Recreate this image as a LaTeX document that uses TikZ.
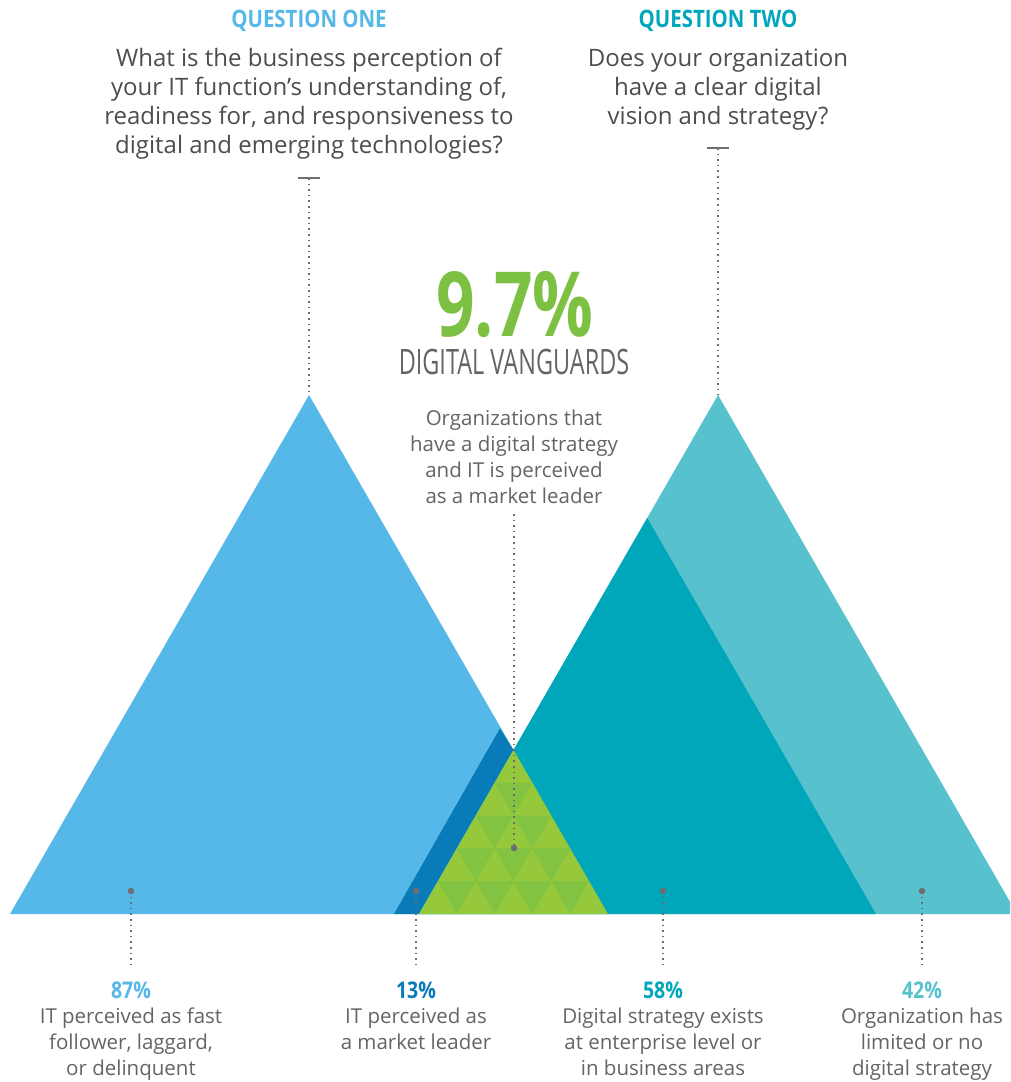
\documentclass[tikz,border=0pt]{standalone}
\usepackage{fontspec}
\setmainfont{Open Sans}
\newfontfamily\condfont[FakeStretch=0.85]{Open Sans}
\newfontfamily\bigfont[FakeStretch=0.75]{Open Sans}
\newfontfamily\thinfont[FakeStretch=0.67]{Open Sans}
\usetikzlibrary{positioning}
\definecolor{skyblue}{HTML}{55B8E8}
\definecolor{deepblue}{HTML}{0A7BB9}
\definecolor{tealdark}{HTML}{00A6B9}
\definecolor{teallight}{HTML}{57C2CE}
\definecolor{greenup}{HTML}{96C83C}
\definecolor{greendown}{HTML}{82C342}
\definecolor{greentext}{HTML}{7DC142}
\definecolor{textgray}{HTML}{4D4D4F}
\definecolor{softgray}{HTML}{636466}
\definecolor{dotgray}{HTML}{6D6E71}
\tikzset{
  qhead/.style={inner sep=0pt, font=\condfont\bfseries\fontsize{24}{28}\selectfont},
  question/.style={align=center, inner sep=0pt, text=textgray, font=\fontsize{24}{29}\selectfont},
  answer/.style={align=center, inner sep=0pt, text=softgray, font=\fontsize{20.5}{26}\selectfont},
  pct/.style={inner sep=0pt, font=\condfont\bfseries\fontsize{23}{26}\selectfont},
  dotline/.style={draw=dotgray, line width=1.6pt, dash pattern=on 1.6pt off 4pt},
  tickline/.style={draw=dotgray, line width=1.8pt},
  pin/.style={circle, fill=dotgray, inner sep=0pt, minimum size=6.5pt},
}
\begin{document}
\begin{tikzpicture}[x=1pt,y=-1pt]
\useasboundingbox (0,0) rectangle (1010,1082);
\clip (0,0) rectangle (1010,1082);
% triangles
\coordinate (apexL) at (309,395);
\coordinate (apexR) at (718,395);
\coordinate (apexG) at (513.5,750);
\fill[skyblue] (10,914) -- (apexL) -- (608,914) -- cycle;
\fill[deepblue] (394,914) -- (500,728.3) -- (apexG) -- (419,914) -- cycle;
\fill[teallight] (419,914) -- (apexR) -- (1017,914) -- cycle;
\fill[tealdark] (419,914) -- (647.2,518) -- (876,914) -- cycle;
% green vanguard triangle with tiles
\fill[greenup] (419,914) -- (apexG) -- (608,914) -- cycle;
\foreach \r in {1,...,4}{
  \foreach \k in {1,...,\r}{
    \pgfmathsetmacro{\xa}{513.5+(2*\k-2-\r)*18.9}
    \pgfmathsetmacro{\ya}{750+32.8*\r}
    \fill[greendown] (\xa,\ya) -- ++(37.8,0) -- ++(-18.9,32.8) -- cycle;
  }
}
% headings and questions
\node[qhead, text=skyblue] (h1) at (309,21) {QUESTION ONE};
\node[qhead, text=tealdark] (h2) at (718,21) {QUESTION TWO};
\node[question] (q1) at (309,104) {What is the business perception of\\your IT function’s understanding of,\\readiness for, and responsiveness to\\digital and emerging technologies?};
\node[question] (q2) at (718,89.5) {Does your organization\\have a clear digital\\vision and strategy?};
% centre figure
\node[inner sep=0pt, anchor=base, text depth=0pt, text=greentext, font=\bigfont\bfseries\fontsize{90}{90}\selectfont] (big) at (515,336) {9.7\%};
\node[inner sep=0pt, text=softgray, font=\thinfont\fontsize{35}{40}\selectfont] (vang) at (514,362) {DIGITAL VANGUARDS};
\node[answer] (vtext) at (514,457) {Organizations that\\have a digital strategy\\and IT is perceived\\as a market leader};
% leaders from the questions
\coordinate (t1) at (309,178);
\coordinate (t2) at (718,148);
\draw[tickline] ([xshift=-11pt]t1) -- ([xshift=11pt]t1);
\draw[tickline] ([xshift=-11pt]t2) -- ([xshift=11pt]t2);
\draw[dotline] (t1) -- (apexL);
\draw[dotline] (t2) -- (apexR);
\node[pin] (dv) at (514,848) {};
\draw[dotline] ([yshift=-10pt]vtext.south) -- (dv.center);
% bottom labels
\node[pin] (d87) at (131,891) {};
\node[pin] (d13) at (416,891) {};
\node[pin] (d58) at (663,891) {};
\node[pin] (d42) at (922,891) {};
\node[pct, text=skyblue] (p87) at (131,990) {87\%};
\node[pct, text=deepblue] (p13) at (416,990) {13\%};
\node[pct, text=tealdark] (p58) at (663,990) {58\%};
\node[pct, text=teallight] (p42) at (922,990) {42\%};
\foreach \n in {87,13,58,42}{
  \draw[dotline] (d\n.center) -- ([yshift=16pt]p\n.north);
}
\node[answer, below=9pt of p87] (a87) {IT perceived as fast\\follower, laggard,\\or delinquent};
\node[answer, below=9pt of p13] (a13) {IT perceived as\\a market leader};
\node[answer, below=9pt of p58] (a58) {Digital strategy exists\\at enterprise level or\\in business areas};
\node[answer, below=9pt of p42] (a42) {Organization has\\limited or no\\digital strategy};
\end{tikzpicture}
\end{document}
